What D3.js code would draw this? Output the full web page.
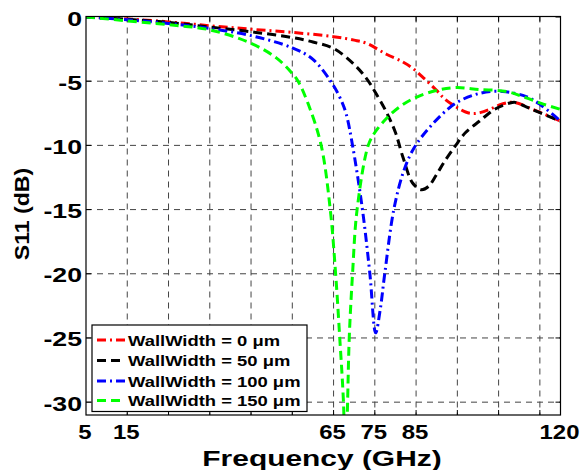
<!DOCTYPE html>
<html><head><meta charset="utf-8">
<script src="https://cdn.jsdelivr.net/npm/d3@7"></script>
<style>body{margin:0;background:#fff}svg{display:block}</style>
</head><body>
<svg id="c" width="584" height="470"></svg>
<script>
const xTickLabels = [5, 15, 65, 75, 85, 120];
const xGrid = [15, 25, 35, 45, 55, 65, 75, 85, 95, 105, 115];
const yTicks = [0, -5, -10, -15, -20, -25, -30];

const seriesNames = ["WallWidth = 0 \u03bcm", "WallWidth = 50 \u03bcm", "WallWidth = 100 \u03bcm", "WallWidth = 150 \u03bcm"];
const seriesColors = ["#ff0000", "#000000", "#0000ff", "#00ff00"];
const seriesDash = ["9,4,2,4", "9,5", "9,4,2,4", "9,5"];

const red = [[5,0],[15,-0.15],[25,-0.38],[35,-0.68],[45,-0.95],[55,-1.2],[65,-1.53],[70,-1.8],[73,-2.05],[77.8,-2.9],[81.8,-3.5],[84.2,-4.0],[87,-4.8],[89.9,-5.7],[92,-6.4],[94.7,-7.0],[97,-7.4],[98.8,-7.52],[100.5,-7.45],[102.8,-7.2],[105.2,-6.85],[107.7,-6.65],[109.5,-6.7],[113.3,-7.2],[120,-8.1]];
const black = [[5,0],[15,-0.18],[25,-0.42],[35,-0.78],[45,-1.15],[55,-1.6],[60,-1.95],[65,-2.45],[70,-3.7],[73,-4.8],[75,-5.8],[77.8,-7.4],[80,-9.0],[81.8,-10.9],[84.2,-12.95],[86.3,-13.45],[88,-13.2],[89.9,-12.3],[92,-11.2],[94.6,-10],[97,-9.0],[100.4,-8.1],[104,-7.2],[107.7,-6.7],[109,-6.65],[111.7,-7.0],[115,-7.45],[120,-8.1]];
const blue = [[5,0],[15,-0.22],[25,-0.5],[35,-0.9],[45,-1.45],[55,-2.4],[60,-3.3],[64.7,-5.2],[67,-6.6],[68.1,-7.6],[69.6,-10],[72,-15],[73.8,-20],[75.2,-24.6],[76.3,-22.8],[77.4,-20],[79.6,-15],[82,-12.0],[84.5,-10.2],[89.1,-8.3],[94.7,-6.7],[100.4,-5.95],[106,-5.8],[111.7,-6.2],[115,-6.8],[120,-8.1]];
const green = [[5,0],[15,-0.3],[25,-0.6],[35,-1.0],[45,-2.05],[51.2,-3.2],[55,-4.4],[56.4,-5],[59,-6.9],[62,-10],[64.2,-15],[65.5,-20],[66.5,-25],[67.4,-30],[67.9,-36],[68.4,-30],[68.8,-25],[69.6,-20],[70.7,-15],[73.4,-10],[75,-9.0],[77.8,-7.9],[81,-7.0],[84.7,-6.3],[89.9,-5.72],[94.6,-5.5],[100.4,-5.65],[106.9,-5.8],[111.7,-6.3],[116,-6.8],[120,-7.2]];
const seriesData = [red, black, blue, green];

const svg = d3.select("#c");
const L = 86, R = 560.5, T = 16.5, B = 415;
const x = d3.scaleLinear().domain([5, 120]).range([L, R]);
const y = d3.scaleLinear().domain([-31, 0]).range([B, 17]);

const font = "'Liberation Sans', Arial, sans-serif";

// grid
const g = svg.append("g");
g.selectAll("line.vg").data(xGrid).enter().append("line")
  .attr("x1", d => x(d)).attr("x2", d => x(d)).attr("y1", T).attr("y2", B)
  .attr("stroke", "#444").attr("stroke-width", 1).attr("stroke-dasharray", "6,5");
g.selectAll("line.hg").data(yTicks.filter(d => d !== 0)).enter().append("line")
  .attr("x1", L).attr("x2", R).attr("y1", d => y(d)).attr("y2", d => y(d))
  .attr("stroke", "#444").attr("stroke-width", 1).attr("stroke-dasharray", "6,5");

// inward ticks
const tl = 5;
[[B, -1], [T, 1]].forEach(([yy, s]) => {
  g.selectAll(null).data(xGrid).enter().append("line")
    .attr("x1", d => x(d)).attr("x2", d => x(d)).attr("y1", yy).attr("y2", yy + s * tl)
    .attr("stroke", "#000");
});
[[L, 1], [R, -1]].forEach(([xx, s]) => {
  g.selectAll(null).data(yTicks).enter().append("line")
    .attr("x1", xx).attr("x2", xx + s * tl).attr("y1", d => y(d)).attr("y2", d => y(d))
    .attr("stroke", "#000");
});

// clip
svg.append("clipPath").attr("id", "clip").append("rect")
  .attr("x", L).attr("y", T).attr("width", R - L).attr("height", B - T);

const line = d3.line().x(d => x(d[0])).y(d => y(d[1])).curve(d3.curveCatmullRom.alpha(0.5));
const lines = svg.append("g").attr("clip-path", "url(#clip)");
seriesData.forEach((data, i) => {
  lines.append("path").datum(data).attr("d", line)
    .attr("fill", "none").attr("stroke", seriesColors[i]).attr("stroke-width", 3)
    .attr("stroke-dasharray", seriesDash[i]);
});

// frame
svg.append("rect").attr("x", L).attr("y", T).attr("width", R - L).attr("height", B - T)
  .attr("fill", "none").attr("stroke", "#000").attr("stroke-width", 1.2);

// tick labels (horizontally stretched like the reference)
svg.selectAll("text.yt").data(yTicks).enter().append("text")
  .attr("transform", d => `translate(82,${y(d) + 8.5}) scale(1.27,1)`).attr("text-anchor", "end")
  .attr("font-family", font).attr("font-weight", "bold").attr("font-size", 21)
  .text(d => d);
svg.selectAll("text.xt").data(xTickLabels).enter().append("text")
  .attr("transform", d => `translate(${x(d) - 1},439) scale(1.14,1)`).attr("text-anchor", "middle")
  .attr("font-family", font).attr("font-weight", "bold").attr("font-size", 21)
  .text(d => d);

// axis titles
svg.append("text").attr("transform", "translate(322,466) scale(1.36,1)").attr("text-anchor", "middle")
  .attr("font-family", font).attr("font-weight", "bold").attr("font-size", 22)
  .text("Frequency (GHz)");
svg.append("text").attr("transform", "translate(29,214) rotate(-90) scale(1.1,1)").attr("text-anchor", "middle")
  .attr("font-family", font).attr("font-weight", "bold").attr("font-size", 21)
  .text("S11 (dB)");

// legend
const lg = svg.append("g");
lg.append("rect").attr("x", 92).attr("y", 325).attr("width", 215).attr("height", 86.5)
  .attr("fill", "#fff").attr("stroke", "#000").attr("stroke-width", 1.2);
const rowY = [340, 360.5, 381, 400.5];
seriesNames.forEach((name, i) => {
  lg.append("line").attr("x1", 97).attr("x2", 125).attr("y1", rowY[i]).attr("y2", rowY[i])
    .attr("stroke", seriesColors[i]).attr("stroke-width", 3).attr("stroke-dasharray", seriesDash[i]);
  lg.append("text").attr("transform", `translate(128,${rowY[i] + 5.5}) scale(1.27,1)`)
    .attr("font-family", font).attr("font-weight", "bold").attr("font-size", 14.5)
    .text(name);
});
</script>
</body></html>
